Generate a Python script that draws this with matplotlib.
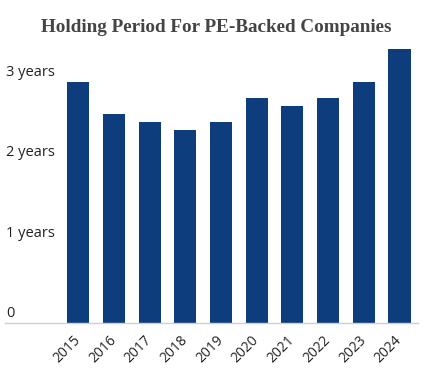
import matplotlib.pyplot as plt
import matplotlib.transforms as mtransforms

years = ["2015", "2016", "2017", "2018", "2019", "2020", "2021", "2022", "2023", "2024"]
holding = [3.0, 2.6, 2.5, 2.4, 2.5, 2.8, 2.7, 2.8, 3.0, 3.4]
ytick_vals = [0, 1, 2, 3]
ytick_labels = ["0", "1 years", "2 years", "3 years"]

BAR = "#0e3d7e"
W, H = 433, 371

fig = plt.figure(figsize=(W / 100, H / 100), dpi=100)
fig.patch.set_facecolor("white")

# axes placed in pixel terms: x 5..418, baseline at y=323 (from top)
left, right = 5, 418
bottom, top = 323, 41.25
ax = fig.add_axes([left / W, (H - bottom) / H, (right - left) / W, (bottom - top) / H])

x = range(len(years))
ax.bar(x, holding, width=0.62, color=BAR, zorder=2)
ax.set_xlim(-2.055, 9.52)
ax.set_ylim(0, 3.5)

for s in ["top", "right", "left"]:
    ax.spines[s].set_visible(False)
ax.spines["bottom"].set_color("#cfcfcf")
ax.spines["bottom"].set_linewidth(1.0)

ax.set_yticks([])
ax.set_xticks(list(x))
ax.set_xticklabels(years, rotation=45, ha="right", va="center",
                   rotation_mode="anchor", fontsize=10, family="Open Sans",
                   color="#222222")
ax.tick_params(axis="x", length=0, pad=11)

trans = mtransforms.blended_transform_factory(ax.transAxes, ax.transData)
for v, lab in zip(ytick_vals, ytick_labels):
    ax.text(0.002, v + 0.02, lab, transform=trans, ha="left", va="bottom",
            fontsize=10.5, family="Open Sans", color="#222222")

fig.text(0.5, 1 - 27 / H, "Holding Period For PE-Backed Companies",
         ha="center", va="center", fontsize=13.8, fontweight="bold",
         family="Liberation Serif", color="#444444")

fig.savefig("out.png", dpi=100)
